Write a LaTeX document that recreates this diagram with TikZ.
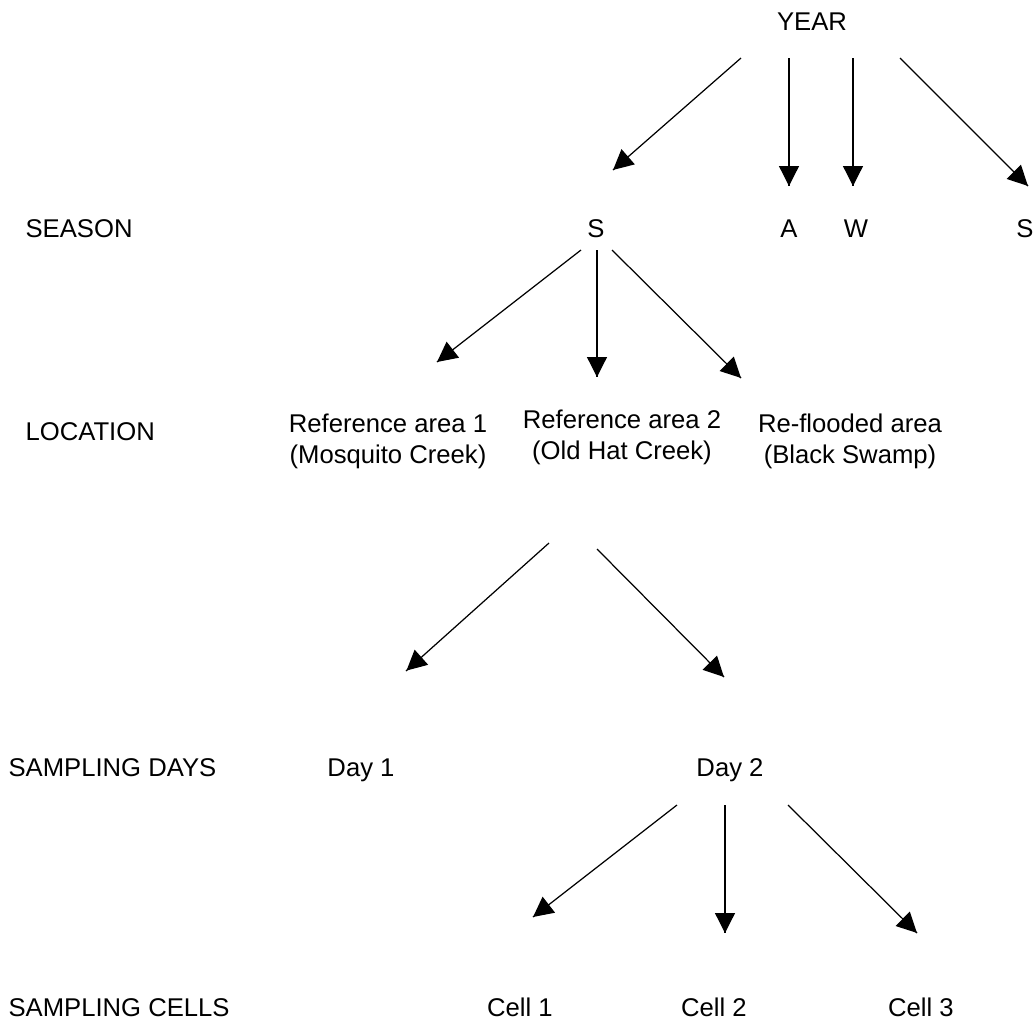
\documentclass[tikz,border=0pt]{standalone}
\usepackage{fontspec}
\setmainfont{Liberation Sans}
\usetikzlibrary{arrows.meta}
\usetikzlibrary{decorations.markings}
\tikzset{->/.style = {decoration={markings,
                                  mark=at position 1 with {\arrow{Triangle[length=4mm, width=4mm]}}},
                      postaction={decorate}}}
\tikzset{lbl/.style = {anchor = base, inner sep = 0}}

\begin{document}
\begin{tikzpicture}[x = 0.02cm, y = -0.02cm, line width = 0.7pt, font = \fontsize{14.6}{17.2}\selectfont]
      \useasboundingbox (0, 0) rectangle (1036, 1019);
      % level names
      \node [lbl, anchor = base west] (season) at (25, 237) {SEASON};
      \node [lbl, anchor = base west] (location) at (25, 440) {LOCATION};
      \node [lbl, anchor = base west] (days) at (8, 776) {SAMPLING DAYS};
      \node [lbl, anchor = base west] (cells) at (8, 1016) {SAMPLING CELLS};
      % tree
      \node [lbl] (year) at (812, 30) {YEAR};
      \node [lbl] (s1) at (596, 237) {S};
      \node [lbl] (a) at (789, 237) {A};
      \node [lbl] (w) at (856, 237) {W};
      \node [lbl] (s2) at (1025, 237) {S};
      \node [lbl, align = center] (ref1) at (388, 463) {Reference area 1\\(Mosquito Creek)};
      \node [lbl, align = center] (ref2) at (622, 459) {Reference area 2\\(Old Hat Creek)};
      \node [lbl, align = center] (reflood) at (850, 463) {Re-flooded area\\(Black Swamp)};
      \node [lbl] (day1) at (361, 776) {Day 1};
      \node [lbl] (day2) at (730, 776) {Day 2};
      \node [lbl] (cell1) at (520, 1016) {Cell 1};
      \node [lbl] (cell2) at (714, 1016) {Cell 2};
      \node [lbl] (cell3) at (921, 1016) {Cell 3};
      % arrow ends
      \coordinate (year-s1) at (741, 58);   \coordinate (s1-top) at (613, 170);
      \coordinate (year-a) at (789, 58);    \coordinate (a-top) at (789, 186);
      \coordinate (year-w) at (853, 58);    \coordinate (w-top) at (853, 186);
      \coordinate (year-s2) at (900, 58);   \coordinate (s2-top) at (1028, 186);
      \coordinate (s1-ref1) at (581, 250);  \coordinate (ref1-top) at (437, 362);
      \coordinate (s1-ref2) at (597, 250);  \coordinate (ref2-top) at (597, 377);
      \coordinate (s1-reflood) at (612, 250); \coordinate (reflood-top) at (741, 378);
      \coordinate (ref2-day1) at (549, 543); \coordinate (day1-top) at (406, 671);
      \coordinate (ref2-day2) at (597, 549); \coordinate (day2-top) at (724, 677);
      \coordinate (day2-cell1) at (677, 805); \coordinate (cell1-top) at (533, 917);
      \coordinate (day2-cell2) at (725, 805); \coordinate (cell2-top) at (725, 933);
      \coordinate (day2-cell3) at (788, 805); \coordinate (cell3-top) at (917, 933);
      \draw [->] (year-s1) -- (s1-top);
      \draw [->] (year-a) -- (a-top);
      \draw [->] (year-w) -- (w-top);
      \draw [->] (year-s2) -- (s2-top);
      \draw [->] (s1-ref1) -- (ref1-top);
      \draw [->] (s1-ref2) -- (ref2-top);
      \draw [->] (s1-reflood) -- (reflood-top);
      \draw [->] (ref2-day1) -- (day1-top);
      \draw [->] (ref2-day2) -- (day2-top);
      \draw [->] (day2-cell1) -- (cell1-top);
      \draw [->] (day2-cell2) -- (cell2-top);
      \draw [->] (day2-cell3) -- (cell3-top);
    \end{tikzpicture}
\end{document}
